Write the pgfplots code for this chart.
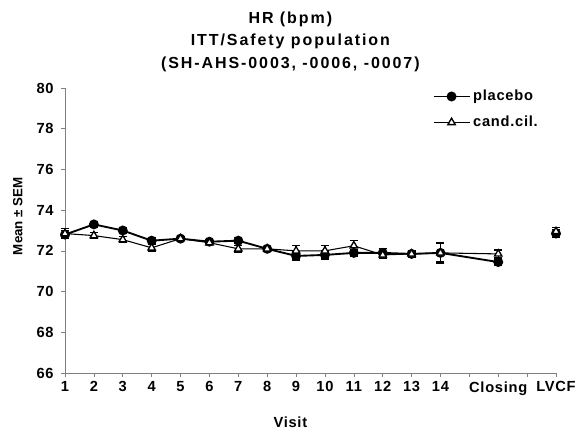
\documentclass[border=0pt]{standalone}
\usepackage{fontspec}
\setmainfont{Liberation Sans}
\newfontfamily\chartfont{Liberation Sans}[LetterSpace=5]
\newfontfamily\titlefont{Liberation Sans}[LetterSpace=12]
\usepackage{pgfplots}
\pgfplotsset{compat=1.18}
\usetikzlibrary{calc}

\begin{document}
\begin{tikzpicture}
\begin{axis}[
    scale only axis,
    width=368.25pt, height=213.75pt,
    xmin=1, xmax=18,
    ymin=66, ymax=80,
    clip=false,
    ytick={66,68,...,80},
    xtick={1,...,18},
    xticklabels={1,2,3,4,5,6,7,8,9,10,11,12,13,14,,Closing,,LVCF},
    axis x line*=bottom, axis y line*=left,
    axis line style={gray, -},
    tick align=outside,
    tick style={gray, thin},
    major tick length=3pt,
    tick label style={font=\chartfont\bfseries\fontsize{11}{12}\selectfont},
    yticklabel style={xshift=-2pt},
    /pgf/number format/assume math mode=true,
    unbounded coords=jump,
    xlabel={Visit},
    xlabel style={font=\chartfont\bfseries\fontsize{11}{12}\selectfont, at={(axis description cs:0.459,-0.172)}, anchor=center},
    ylabel={Mean ± SEM},
    ylabel style={font=\bfseries\fontsize{10}{10}\selectfont, at={(axis description cs:-0.096,0.55)}, anchor=center},
    legend style={draw=none, fill=none, at={(rel axis cs:0.74,1.012)}, anchor=north west,
        font=\chartfont\bfseries\fontsize{11}{12}\selectfont, row sep=6pt},
    legend cell align=left,
    legend image code/.code={
        \draw[#1] (0cm,0cm) -- (0.95cm,0cm);
        \draw[#1, mark repeat=1, mark phase=1] plot coordinates {(0.475cm,0cm)};
    },
    error bars/y dir=both, error bars/y explicit,
    error bars/error mark options={rotate=90, mark size=3pt, black, line width=1pt},
    error bars/error bar style={black, line width=1pt},
]
% placebo
\addplot[black, line width=1.4pt, mark=*, mark size=3pt, mark options={fill=black, solid}] coordinates {
(1,72.80) +- (0,0.20)
(2,73.30) +- (0,0.15)
(3,73.00) +- (0,0.15)
(4,72.50) +- (0,0.15)
(5,72.60) +- (0,0.10)
(6,72.45) +- (0,0.10)
(7,72.50) +- (0,0.15)
(8,72.10) +- (0,0.10)
(9,71.75) +- (0,0.20)
(10,71.80) +- (0,0.20)
(11,71.90) +- (0,0.15)
(12,71.90) +- (0,0.20)
(13,71.85) +- (0,0.15)
(14,71.90) +- (0,0.45)
(16,71.45) +- (0,0.15)
(17,nan) +- (0,0)
(18,72.85) +- (0,0.20)
};
\addlegendentry{placebo}
% cand.cil.
\addplot[black, line width=0.8pt, mark=triangle*, mark size=3.2pt, mark options={fill=white, solid, line width=1pt}] coordinates {
(1,72.85) +- (0,0.25)
(2,72.75) +- (0,0.15)
(3,72.55) +- (0,0.15)
(4,72.15) +- (0,0.15)
(5,72.60) +- (0,0.10)
(6,72.40) +- (0,0.10)
(7,72.10) +- (0,0.15)
(8,72.10) +- (0,0.10)
(9,72.00) +- (0,0.25)
(10,72.00) +- (0,0.25)
(11,72.25) +- (0,0.25)
(12,71.80) +- (0,0.15)
(13,71.85) +- (0,0.15)
(14,71.90) +- (0,0.50)
(16,71.85) +- (0,0.20)
(17,nan) +- (0,0)
(18,72.95) +- (0,0.20)
};
\addlegendentry{cand.cil.}
\node[align=center, anchor=south, font=\titlefont\bfseries\fontsize{12}{17}\selectfont, inner sep=0pt]
    at (rel axis cs:0.459,1) [yshift=12pt] {HR (bpm)\\ITT/Safety population\\(SH-AHS-0003, -0006, -0007)};
\end{axis}
\pgfresetboundingbox
\path[use as bounding box] ($(current axis.south west)+(-48.75pt,-45.75pt)$) rectangle ($(current axis.north east)+(15.75pt,66pt)$);
\end{tikzpicture}
\end{document}
